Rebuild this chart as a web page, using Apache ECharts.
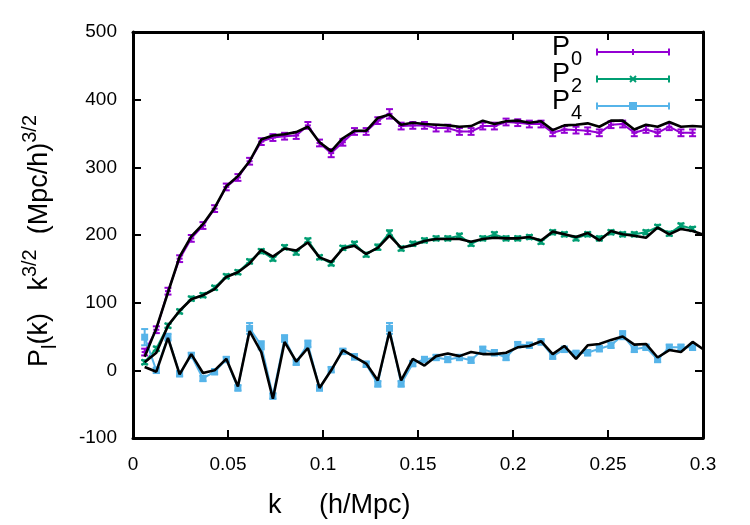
<!DOCTYPE html>
<html><head><meta charset="utf-8">
<script src="https://cdn.jsdelivr.net/npm/echarts@6/dist/echarts.min.js"></script>
<style>html,body{margin:0;padding:0;background:#fff}#c{width:750px;height:525px}</style>
</head><body><div id="c"></div>
<script>
// k values (h/Mpc)
const kData = [0.00614,0.01227,0.01841,0.02454,0.03068,0.03682,0.04295,0.04909,0.05522,0.06136,
  0.06750,0.07363,0.07977,0.08590,0.09204,0.09817,0.10431,0.11045,0.11658,0.12272,
  0.12885,0.13499,0.14113,0.14726,0.15340,0.15953,0.16567,0.17181,0.17794,0.18408,
  0.19021,0.19635,0.20249,0.20862,0.21476,0.22089,0.22703,0.23317,0.23930,0.24544,
  0.25157,0.25771,0.26385,0.26998,0.27612,0.28225,0.28839,0.29452];
const kModel = kData.concat([0.30066]);

const P0 = [27,60,117,165,195,214,239,271,285,309,338,344,346,347,362,336,321,337,353,353,
  369,379,361,362,362,358,358,353,353,361,361,367,366,364,364,351,356,355,354,351,
  363,364,351,356,351,360,351,351];
const P0err = [5,5,5,5,5,5,5,5,5,5,5,5,5,5,5,5,6,5,5,5,5,7,5,5,5,5,5,5,5,5,5,5,5,5,5,5,5,5,5,5,5,5,5,5,5,5,5,5];
const P0model = [20,62,115,168,198,216,240,272,287,309,341,347,349,352,360,337,324,343,354,354,
  373,378,363,366,364,363,362,360,361,369,364,368,369,366,368,355,362,363,365,360,
  369,369,356,363,360,367,360,361,360];

const P2 = [12,32,66,87,106,111,122,139,145,161,176,165,182,174,192,167,158,181,187,171,
  182,203,180,187,192,195,195,199,187,195,201,195,195,197,190,204,201,195,201,195,
  204,201,201,204,212,202,214,209];
const P2err = [3,3,3,3,3,3,3,3,3,3,3,3,3,3,3,3,3,3,3,3,4,4,3,3,3,3,3,3,3,3,3,3,3,3,3,3,3,3,3,3,3,3,3,3,3,3,3,3];
const P2model = [12,26,66,88,105,111,120,138,145,158,178,168,180,177,189,167,160,180,184,172,
  181,199,181,185,191,194,194,194,190,194,196,195,195,197,192,205,201,197,203,192,
  206,201,199,196,211,201,209,206,200];

const P4 = [49,0,49,-5,22,-12,-2,16,-26,62,37,-38,47,12,39,-26,1,28,20,9,
  -20,62,-20,10,16,19,16,19,15,31,26,19,38,37,42,21,31,25,26,32,
  37,52,31,34,16,34,34,34];
const P4err = [12,4,5,4,4,4,4,4,4,8,6,4,5,4,5,4,4,4,4,4,4,8,4,4,4,4,4,4,4,4,4,4,4,4,4,4,4,4,4,4,4,6,4,4,4,4,4,4];
const P4model = [5,-2,48,-6,24,-4,0,17,-24,58,27,-42,42,13,33,-26,0,30,20,10,
  -15,57,-15,17,7,21,25,21,27,24,24,26,34,36,43,24,36,17,37,39,
  45,50,38,39,19,30,27,42,30];

const xTicks = ['0','0.05','0.1','0.15','0.2','0.25','0.3'];
const yTicks = ['-100','0','100','200','300','400','500'];

const C0 = '#9400d3', C2 = '#009e73', C4 = '#56b4e9';
const FONT = 'Liberation Sans, Arial, sans-serif';

function pairs(xs, ys){ return ys.map((v,i)=>[xs[i], v]); }
function errData(xs, ys, es){ return ys.map((v,i)=>[xs[i], v, es[i]]); }

function errItem(color, mark){
  return function(params, api){
    const x = api.value(0), y = api.value(1), e = api.value(2);
    const p = api.coord([x, y]);
    const lo = api.coord([x, y - e]);
    const hi = api.coord([x, y + e]);
    const cw = 3.5;
    const st = {stroke: color, lineWidth: 2, fill: null};
    const ch = [
      {type:'line', shape:{x1:p[0],y1:lo[1],x2:p[0],y2:hi[1]}, style:st},
      {type:'line', shape:{x1:p[0]-cw,y1:lo[1],x2:p[0]+cw,y2:lo[1]}, style:st},
      {type:'line', shape:{x1:p[0]-cw,y1:hi[1],x2:p[0]+cw,y2:hi[1]}, style:st}
    ];
    const s = 3;
    if (mark === 'plus') {
      ch.push({type:'line', shape:{x1:p[0]-s,y1:p[1],x2:p[0]+s,y2:p[1]}, style:st});
    } else if (mark === 'cross') {
      ch.push({type:'line', shape:{x1:p[0]-s,y1:p[1]-s,x2:p[0]+s,y2:p[1]+s}, style:st});
      ch.push({type:'line', shape:{x1:p[0]-s,y1:p[1]+s,x2:p[0]+s,y2:p[1]-s}, style:st});
    } else {
      ch.push({type:'rect', shape:{x:p[0]-3.5,y:p[1]-3.5,width:7,height:7}, style:{fill:color}});
    }
    return {type:'group', children: ch};
  };
}

const chart = echarts.init(document.getElementById('c'));

const axisCommon = {
  type:'value',
  axisLine:{show:true, onZero:false, lineStyle:{color:'#000', width:3}},
  axisTick:{show:true, inside:true, length:8, lineStyle:{color:'#000', width:2}},
  splitLine:{show:false}
};

function dataLine(name, ys, color){
  return {type:'line', name, data:pairs(kData, ys), showSymbol:false, symbol:'none',
    lineStyle:{color, width:2}, z:2, silent:true, animation:false};
}
function modelLine(ys){
  return {type:'line', data:pairs(kModel, ys), showSymbol:false, symbol:'none',
    lineStyle:{color:'#000', width:2.6}, z:5, silent:true, animation:false, clip:true};
}
function errSeries(ys, es, color, mark){
  return {type:'custom', data:errData(kData, ys, es), renderItem:errItem(color, mark),
    z:3, silent:true, animation:false, clip:true, encode:{x:0, y:1}};
}

// legend drawing (gnuplot-like key)
const legendRows = [
  {lbl:'0', color:C0, mark:'plus', y:52},
  {lbl:'2', color:C2, mark:'cross', y:79},
  {lbl:'4', color:C4, mark:'square', y:106}
];
const graphics = [];
legendRows.forEach(r=>{
  graphics.push({type:'text', x:552, y:r.y-4, style:{text:'P', fontSize:27, fontFamily:FONT,
    fill:'#000', textAlign:'left', textVerticalAlign:'middle'}, z:10});
  graphics.push({type:'text', x:571, y:r.y+7, style:{text:r.lbl, fontSize:20, fontFamily:FONT,
    fill:'#000', textAlign:'left', textVerticalAlign:'middle'}, z:10});
  const st = {stroke:r.color, lineWidth:2};
  const x1 = 597, x2 = 669, xm = 633, y = r.y;
  graphics.push({type:'line', shape:{x1:x1,y1:y,x2:x2,y2:y}, style:st, z:10});
  graphics.push({type:'line', shape:{x1:x1,y1:y-3.5,x2:x1,y2:y+3.5}, style:st, z:10});
  graphics.push({type:'line', shape:{x1:x2,y1:y-3.5,x2:x2,y2:y+3.5}, style:st, z:10});
  if (r.mark==='plus') {
    graphics.push({type:'line', shape:{x1:xm,y1:y-3,x2:xm,y2:y+3}, style:st, z:10});
  } else if (r.mark==='cross') {
    graphics.push({type:'line', shape:{x1:xm-3,y1:y-3,x2:xm+3,y2:y+3}, style:st, z:10});
    graphics.push({type:'line', shape:{x1:xm-3,y1:y+3,x2:xm+3,y2:y-3}, style:st, z:10});
  } else {
    graphics.push({type:'rect', shape:{x:xm-4,y:y-4,width:8,height:8}, style:{fill:r.color}, z:10});
  }
});
// x-axis title
graphics.push({type:'text', x:268, y:506, style:{text:'k     (h/Mpc)', fontSize:27, fontFamily:FONT,
  fill:'#000', textAlign:'left', textVerticalAlign:'middle'}, z:10});

chart.setOption({
  animation:false,
  backgroundColor:'#fff',
  grid:{left:133, right:47, top:32, bottom:87, containLabel:false},
  xAxis:[
    Object.assign({}, axisCommon, {position:'bottom', min:0, max:0.3, interval:0.05,
      axisLabel:{color:'#000', fontSize:19, fontFamily:FONT, margin:17,
        formatter:(v)=>xTicks[Math.round(v/0.05)]}}),
    Object.assign({}, axisCommon, {position:'top', min:0, max:0.3, interval:0.05,
      axisLabel:{show:false}})
  ],
  yAxis:[
    Object.assign({}, axisCommon, {position:'left', min:-100, max:500, interval:100,
      axisLabel:{color:'#000', fontSize:19, fontFamily:FONT, margin:16,
        formatter:(v)=>yTicks[Math.round((v+100)/100)]},
      name:'{m|P}{sub|l}{m|(k)   k}{sup|3/2}{m|  (Mpc/h)}{sup|3/2}',
      nameLocation:'middle', nameGap:73, nameRotate:90,
      nameTextStyle:{padding:[0,12,0,0], rich:{
        m:{fontSize:27, fontFamily:FONT, color:'#000', lineHeight:40},
        sub:{fontSize:20, fontFamily:FONT, color:'#000', lineHeight:20, verticalAlign:'bottom'},
        sup:{fontSize:20, fontFamily:FONT, color:'#000', lineHeight:20, verticalAlign:'top'}
      }}}),
    Object.assign({}, axisCommon, {position:'right', min:-100, max:500, interval:100,
      axisLabel:{show:false}})
  ],
  series:[
    dataLine('P0', P0, C0), dataLine('P2', P2, C2), dataLine('P4', P4, C4),
    errSeries(P0, P0err, C0, 'plus'), errSeries(P2, P2err, C2, 'cross'), errSeries(P4, P4err, C4, 'square'),
    modelLine(P0model), modelLine(P2model), modelLine(P4model)
  ],
  graphic: graphics
});
</script></body></html>
